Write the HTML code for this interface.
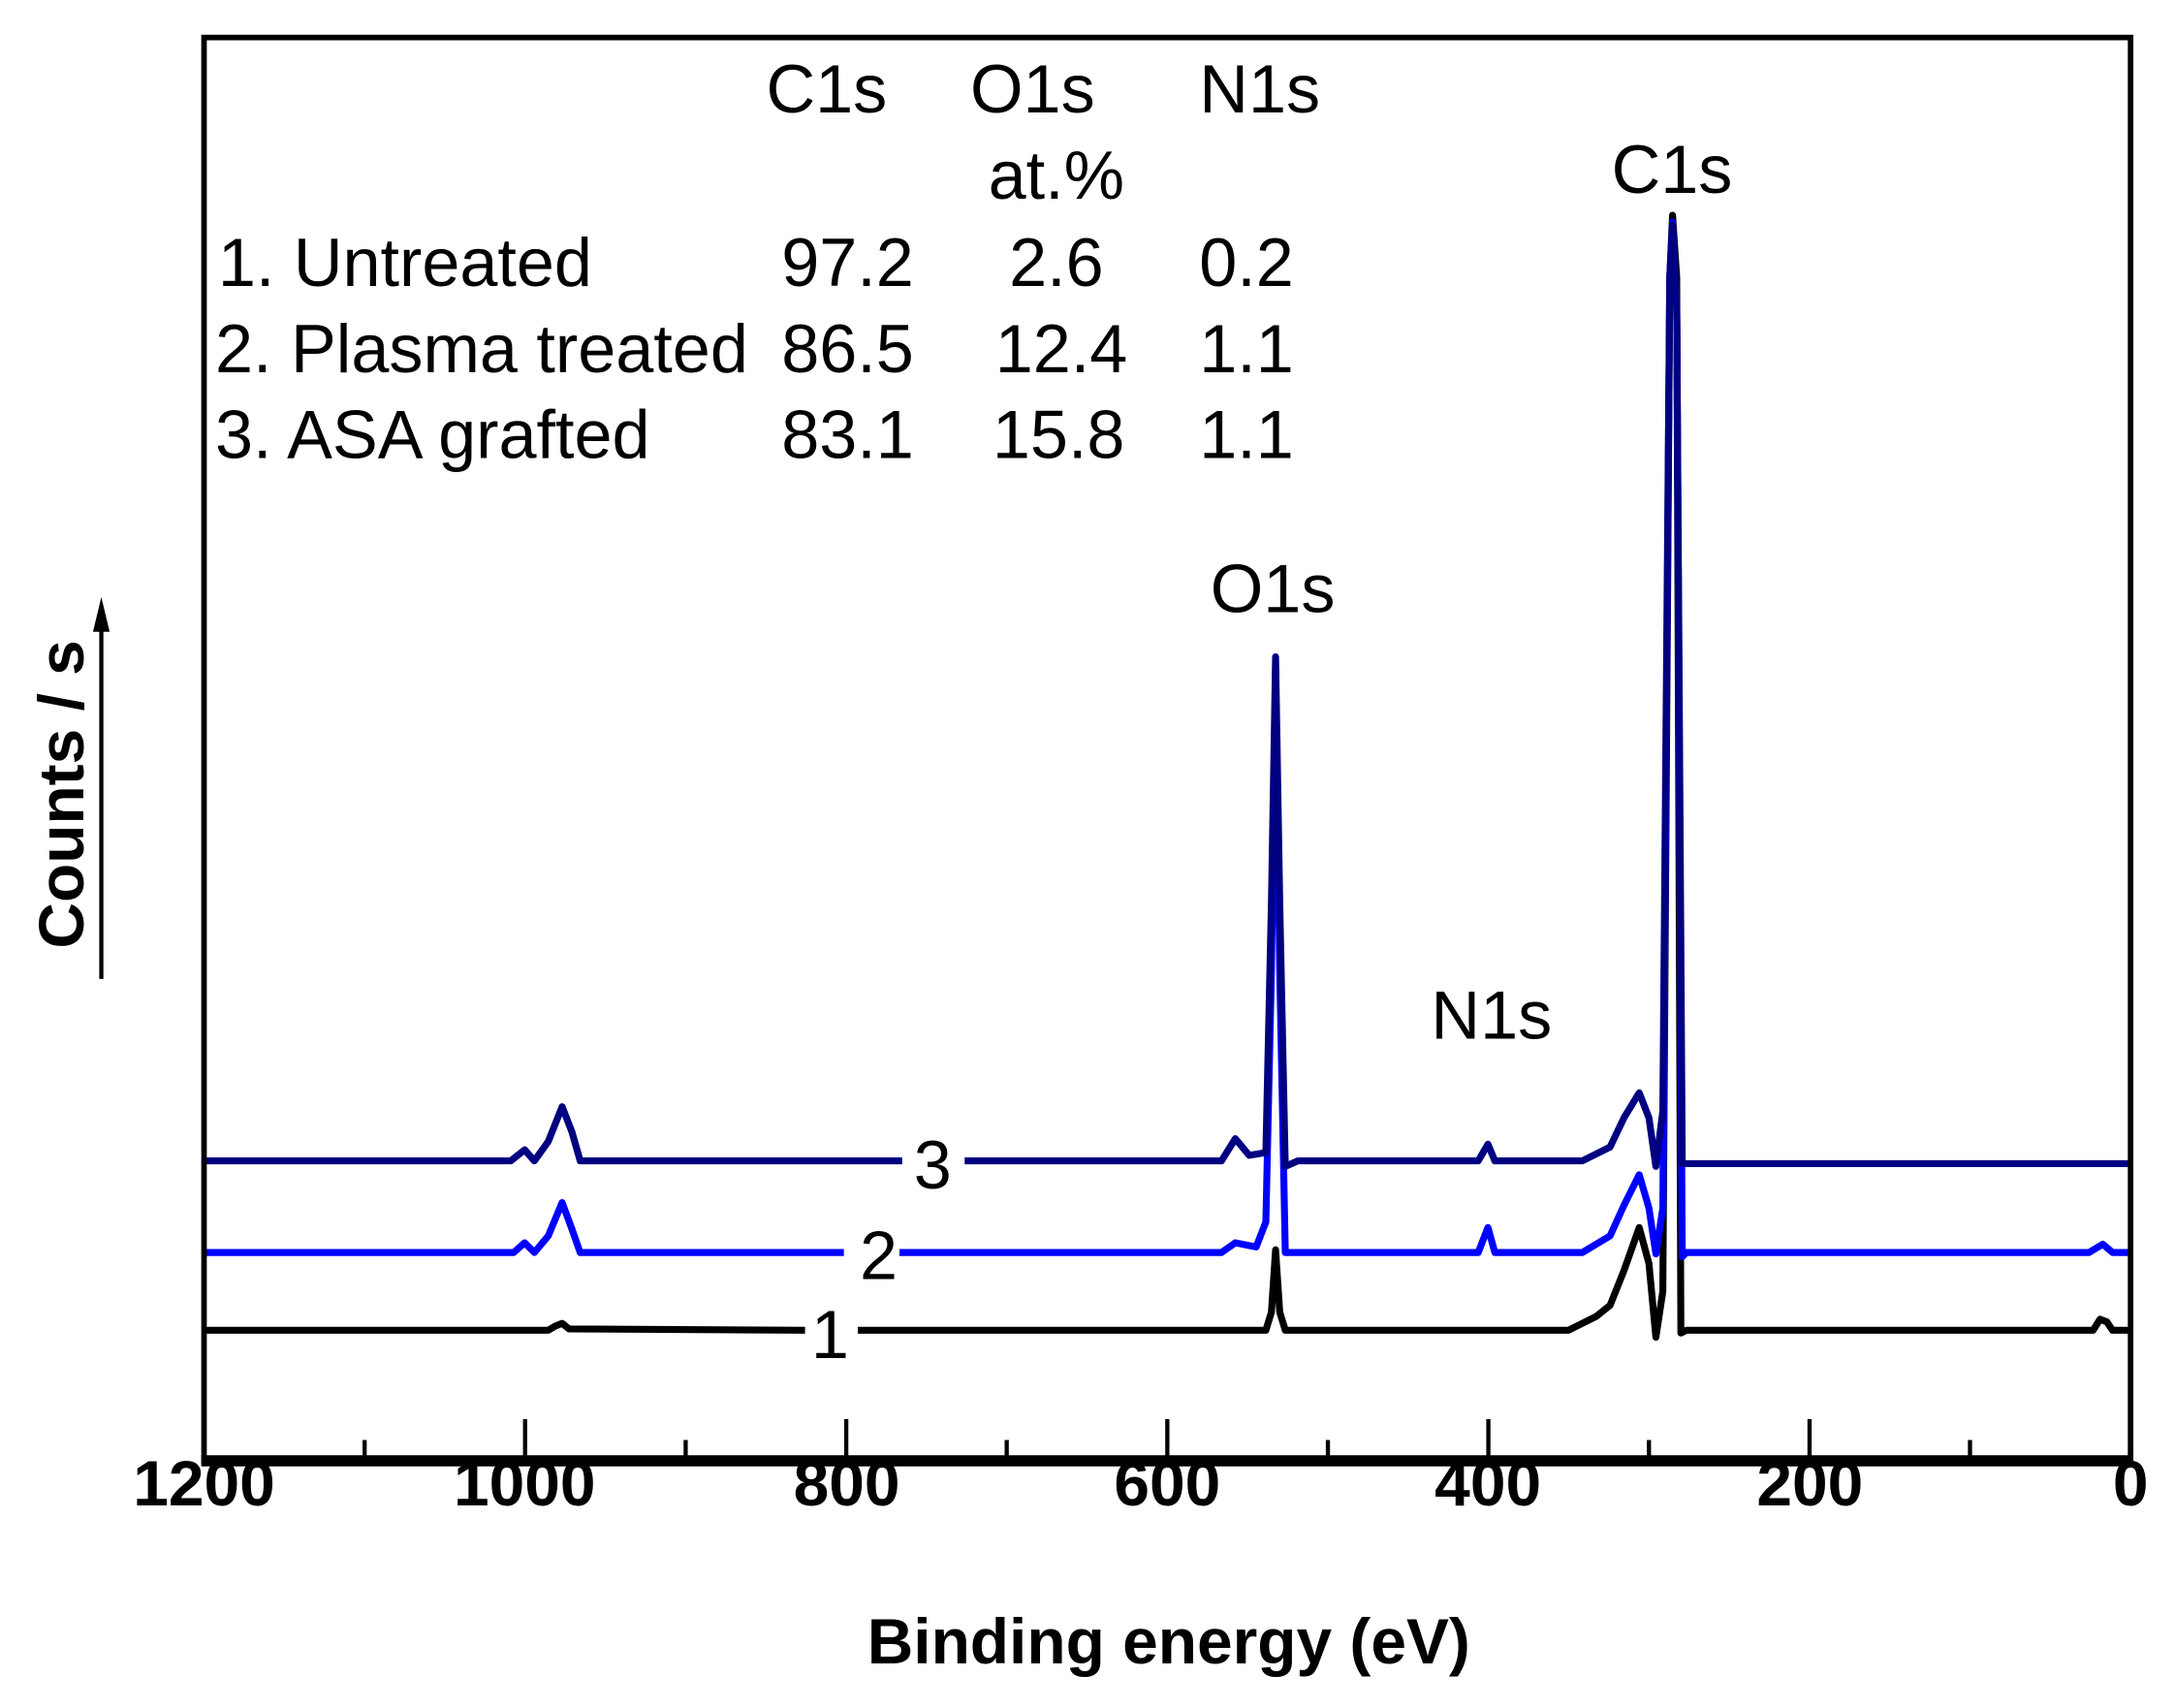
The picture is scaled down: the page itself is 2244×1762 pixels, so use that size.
<!DOCTYPE html>
<html><head><meta charset="utf-8"><style>
html,body{margin:0;padding:0;background:#fff;}
svg{display:block;}
text{font-family:"Liberation Sans",Arial,sans-serif;fill:#000;}
</style></head><body>
<svg width="2244" height="1762" viewBox="0 0 1567 1230" preserveAspectRatio="none" xmlns="http://www.w3.org/2000/svg">
<rect x="0" y="0" width="1567" height="1230" fill="#fff"/>
<g fill="none" stroke-width="5" stroke-linejoin="round">
<path stroke="#000" d="M147 958 L395 958 L400 955 L405 953 L410 957 L580 958 M618 958 L912 958 L916 945 L919 900 L922 945 L926 958 L1130 958 L1150 948 L1160 940 L1170 915 L1181 884 L1188 910 L1193 963 L1198 930 L1203 200 L1205 155 L1208 200 L1211 960 L1215 958 L1508 958 L1513 950 L1518 952 L1522 958 L1535 958"/>
<path stroke="#0000ff" d="M147 902 L370 902 L378 895 L385 902 L395 890 L405 866 L412 885 L418 902 L608 902 M648 902 L880 902 L890 895 L905 898 L912 880 L916 700 L919 480 L922 700 L926 902 L1065 902 L1072 884 L1077 902 L1140 902 L1160 890 L1170 868 L1181 846 L1188 870 L1193 903 L1198 870 L1203 200 L1205 160 L1208 220 L1212 905 L1215 902 L1505 902 L1515 896 L1522 902 L1535 902"/>
<path stroke="#000080" d="M147 836 L368 836 L378 828 L385 836 L395 822 L405 797 L412 815 L418 836 L650 836 M695 836 L880 836 L890 820 L900 832 L912 830 L916 650 L919 473 L922 650 L926 840 L935 836 L1065 836 L1072 824 L1077 836 L1140 836 L1160 826 L1170 805 L1181 787 L1188 805 L1193 840 L1198 800 L1203 200 L1205 162 L1208 220 L1212 838 L1535 838"/>
</g>
<rect x="147" y="27" width="1388" height="1025" fill="none" stroke="#000" stroke-width="4"/>
<line x1="145" y1="1052" x2="1537" y2="1052" stroke="#000" stroke-width="8"/>
<g stroke="#000" stroke-width="3">
<line x1="262.7" y1="1052" x2="262.7" y2="1037"/>
<line x1="378.3" y1="1052" x2="378.3" y2="1022"/>
<line x1="494" y1="1052" x2="494" y2="1037"/>
<line x1="609.7" y1="1052" x2="609.7" y2="1022"/>
<line x1="725.3" y1="1052" x2="725.3" y2="1037"/>
<line x1="841" y1="1052" x2="841" y2="1022"/>
<line x1="956.7" y1="1052" x2="956.7" y2="1037"/>
<line x1="1072.3" y1="1052" x2="1072.3" y2="1022"/>
<line x1="1188" y1="1052" x2="1188" y2="1037"/>
<line x1="1303.7" y1="1052" x2="1303.7" y2="1022"/>
<line x1="1419.3" y1="1052" x2="1419.3" y2="1037"/>
</g>
<g font-size="46" font-weight="bold" text-anchor="middle">
<text x="147" y="1084">1200</text>
<text x="378" y="1084">1000</text>
<text x="610" y="1084">800</text>
<text x="841" y="1084">600</text>
<text x="1072" y="1084">400</text>
<text x="1304" y="1084">200</text>
<text x="1535" y="1084">0</text>
<text x="842" y="1198">Binding energy (eV)</text>
</g>
<text x="0" y="0" font-size="46" font-weight="bold" text-anchor="middle" transform="translate(60,572) rotate(-90)">Counts / s</text>
<line x1="73" y1="705" x2="73" y2="450" stroke="#000" stroke-width="3"/>
<polygon points="73,430 67,455 79,455" fill="#000"/>
<g font-size="49">
<text x="552" y="81">C1s</text>
<text x="699" y="81">O1s</text>
<text x="864" y="81">N1s</text>
<text x="712" y="143">at.%</text>
<text x="157" y="206">1. Untreated</text><text x="563" y="206">97.2</text><text x="727" y="206">2.6</text><text x="864" y="206">0.2</text>
<text x="155" y="268">2. Plasma treated</text><text x="563" y="268">86.5</text><text x="717" y="268">12.4</text><text x="864" y="268">1.1</text>
<text x="155" y="330">3. ASA grafted</text><text x="563" y="330">83.1</text><text x="715" y="330">15.8</text><text x="864" y="330">1.1</text>
<text x="1161" y="139">C1s</text>
<text x="872" y="441">O1s</text>
<text x="1031" y="748">N1s</text>
<text x="672" y="856" text-anchor="middle">3</text>
<text x="633" y="921" text-anchor="middle">2</text>
<text x="598" y="978" text-anchor="middle">1</text>
</g>
</svg>
</body></html>
